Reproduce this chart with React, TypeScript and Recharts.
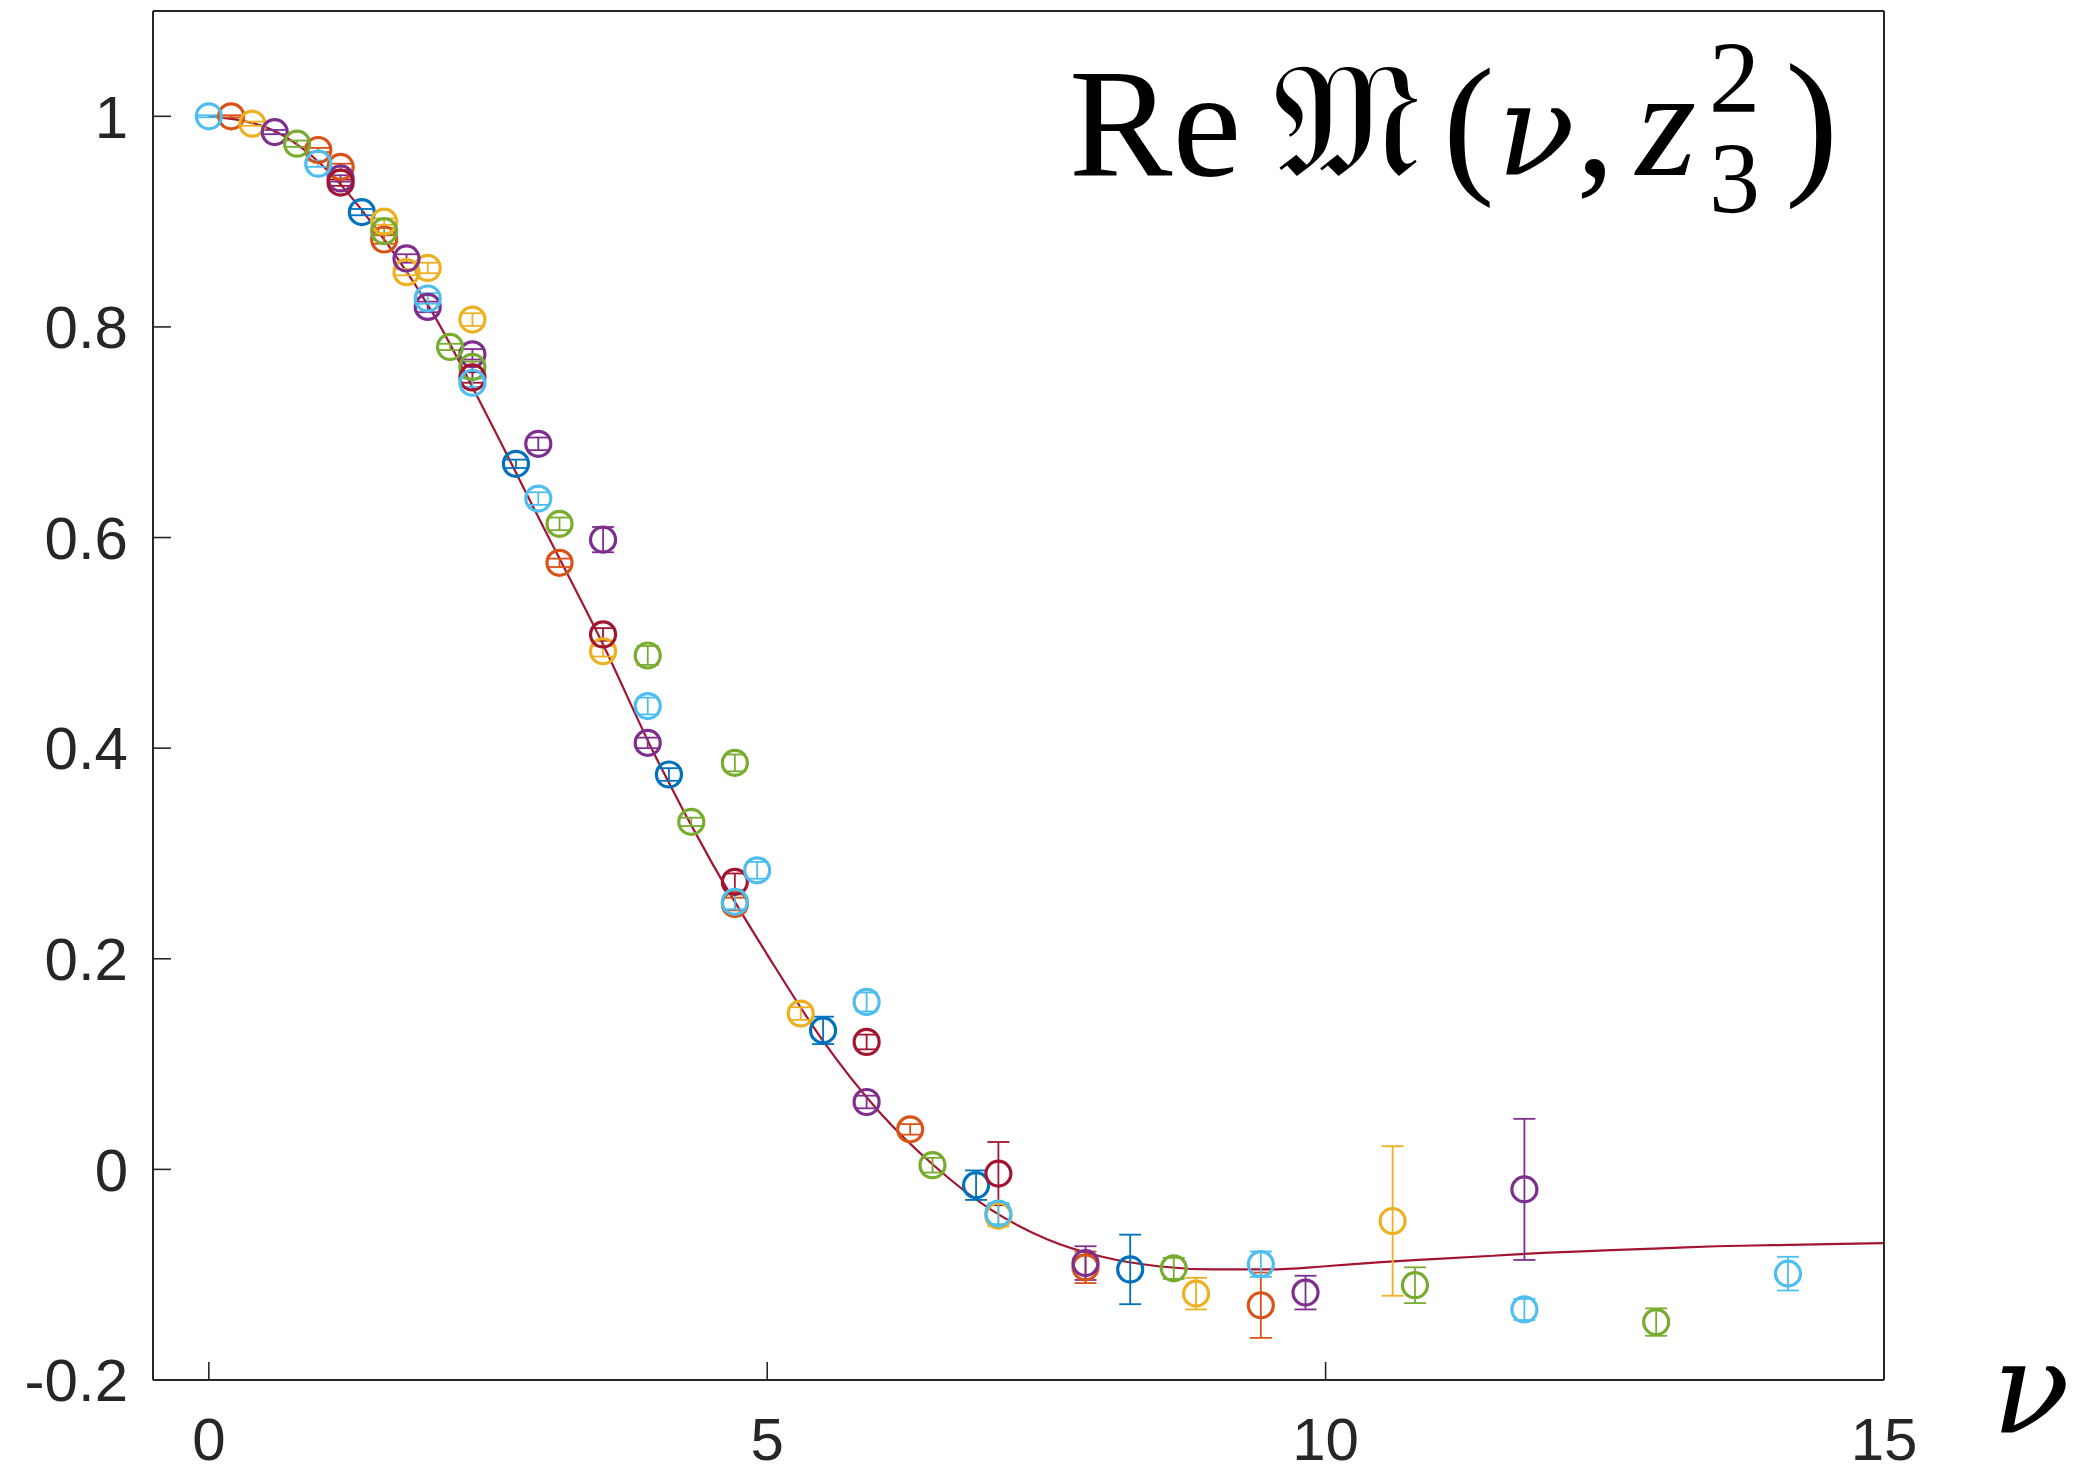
import { ComposedChart, Line, Scatter, ErrorBar, XAxis, YAxis } from 'recharts'

// MATLAB default colour order
const BLUE = '#0072BD'
const ORANGE = '#D95319'
const YELLOW = '#EDB120'
const PURPLE = '#7E2F8E'
const GREEN = '#77AC30'
const LIGHTBLUE = '#4DBEEE'
const DARKRED = '#A2142F'
const AXIS = '#262626'

const xTicks = [0, 5, 10, 15]
const yTicks = [-0.2, 0, 0.2, 0.4, 0.6, 0.8, 1]

// fitted curve
const curveNu = [0, 0.5, 1, 1.5, 2, 2.5, 3, 3.5, 4, 4.5, 5, 5.5, 6, 6.5, 7, 7.5, 8, 8.5, 9, 9.5, 10, 10.5, 11, 11.5, 12, 12.5, 13, 13.5, 14, 14.5, 15]
const curveRe = [1, 0.99, 0.955, 0.893, 0.814, 0.714, 0.609, 0.505, 0.392, 0.292, 0.204, 0.122, 0.055, 0.003, -0.038, -0.066, -0.083, -0.092, -0.095, -0.095, -0.092, -0.088, -0.085, -0.082, -0.079, -0.077, -0.075, -0.073, -0.072, -0.071, -0.07]

// lattice points: [nu, Re M, error]
const bluePts = [
  [1.37, 0.909, 0.003], [2.75, 0.67, 0.004], [4.12, 0.375, 0.006], [5.5, 0.132, 0.013],
  [6.87, -0.015, 0.014], [8.25, -0.095, 0.033],
]
const orangePts = [
  [0.2, 1.0, 0.001], [0.98, 0.968, 0.002], [1.18, 0.952, 0.003], [1.57, 0.883, 0.004],
  [3.14, 0.576, 0.004], [4.71, 0.252, 0.006], [6.28, 0.038, 0.005], [7.85, -0.093, 0.015],
  [9.42, -0.129, 0.031],
]
const yellowPts = [
  [0.39, 0.993, 0.002], [1.57, 0.9, 0.003], [1.77, 0.852, 0.003], [1.96, 0.856, 0.005],
  [2.36, 0.807, 0.006], [3.53, 0.492, 0.005], [5.3, 0.148, 0.006], [7.07, -0.044, 0.01],
  [8.84, -0.118, 0.015], [10.6, -0.049, 0.071],
]
const purplePts = [
  [0.59, 0.985, 0.002], [1.18, 0.941, 0.003], [1.77, 0.865, 0.004], [1.96, 0.819, 0.005],
  [2.36, 0.774, 0.005], [2.95, 0.689, 0.006], [3.53, 0.598, 0.012], [3.93, 0.405, 0.005],
  [5.89, 0.064, 0.006], [7.85, -0.089, 0.016], [9.82, -0.117, 0.016], [11.78, -0.019, 0.067],
]
const greenPts = [
  [0.79, 0.974, 0.003], [1.57, 0.891, 0.003], [2.16, 0.781, 0.003], [2.36, 0.762, 0.005],
  [3.14, 0.613, 0.006], [3.93, 0.488, 0.009], [4.32, 0.33, 0.004], [4.71, 0.386, 0.008],
  [6.48, 0.004, 0.007], [8.64, -0.094, 0.01], [10.8, -0.11, 0.017], [12.96, -0.145, 0.013],
]
const darkRedPts = [
  [1.18, 0.937, 0.003], [2.36, 0.752, 0.005], [3.53, 0.508, 0.006], [4.71, 0.273, 0.008],
  [5.89, 0.121, 0.007], [7.07, -0.004, 0.03],
]
const lightBluePts = [
  [0, 1.0, 0.001], [0.98, 0.955, 0.003], [1.96, 0.827, 0.005], [2.36, 0.747, 0.004],
  [2.95, 0.637, 0.006], [3.93, 0.44, 0.008], [4.71, 0.254, 0.007], [4.91, 0.284, 0.008],
  [5.89, 0.159, 0.009], [7.07, -0.042, 0.01], [9.42, -0.09, 0.012], [11.78, -0.133, 0.01],
  [14.14, -0.099, 0.016],
]

const series = [
  { color: BLUE, pts: bluePts },
  { color: ORANGE, pts: orangePts },
  { color: YELLOW, pts: yellowPts },
  { color: PURPLE, pts: purplePts },
  { color: GREEN, pts: greenPts },
  { color: DARKRED, pts: darkRedPts },
  { color: LIGHTBLUE, pts: lightBluePts },
]

const curve = curveNu.map((x, i) => ({ x, y: curveRe[i] }))

const W = 2080
const H = 1472
const tickFont = { fill: AXIS, fontSize: 60, fontFamily: "'Liberation Sans', Arial, sans-serif" }
const SERIF = "'Liberation Serif', 'Times New Roman', serif"
const GREEK = "'DejaVu Serif', serif"
const FRAKTUR = "'DejaVu Serif', 'DejaVu Sans', serif"

function Ring(color: string) {
  return (props: any) => {
    const { cx, cy } = props
    if (cx == null || cy == null) return <g />
    return <circle cx={cx} cy={cy} r={12.5} fill="none" stroke={color} strokeWidth={3.2} />
  }
}

export default function App() {
  return (
    <div style={{ position: 'relative', width: W, height: H, background: '#fff' }}>
      <style>{'body{margin:0}'}</style>
      <ComposedChart width={W} height={H} margin={{ top: 10, right: 195, bottom: 0, left: 0 }}>
        <XAxis
          type="number"
          dataKey="x"
          domain={[-0.5, 15]}
          ticks={xTicks}
          allowDataOverflow
          height={92}
          tick={tickFont}
          tickSize={-18}
          tickMargin={55}
          axisLine={{ stroke: AXIS, strokeWidth: 2 }}
          tickLine={{ stroke: AXIS, strokeWidth: 1.6 }}
        />
        <XAxis
          xAxisId="top"
          orientation="top"
          type="number"
          domain={[-0.5, 15]}
          ticks={xTicks}
          allowDataOverflow
          height={1}
          tick={false}
          tickSize={-18}
          axisLine={{ stroke: AXIS, strokeWidth: 2 }}
          tickLine={{ stroke: AXIS, strokeWidth: 1.6 }}
        />
        <YAxis
          type="number"
          domain={[-0.2, 1.1]}
          ticks={yTicks}
          allowDataOverflow
          width={153}
          tick={tickFont}
          tickSize={-18}
          tickMargin={43}
          axisLine={{ stroke: AXIS, strokeWidth: 2 }}
          tickLine={{ stroke: AXIS, strokeWidth: 1.6 }}
        />
        <YAxis
          yAxisId="right"
          orientation="right"
          type="number"
          domain={[-0.2, 1.1]}
          ticks={yTicks}
          allowDataOverflow
          width={1}
          tick={false}
          tickSize={-18}
          axisLine={{ stroke: AXIS, strokeWidth: 2 }}
          tickLine={{ stroke: AXIS, strokeWidth: 1.6 }}
        />
        <Line
          data={curve}
          dataKey="y"
          type="monotone"
          stroke={DARKRED}
          strokeWidth={2.2}
          dot={false}
          activeDot={false}
          isAnimationActive={false}
        />
        {series.map((s, i) => (
          <Scatter
            key={i}
            data={s.pts.map(([x, y, e]) => ({ x, y, e }))}
            dataKey="y"
            shape={Ring(s.color)}
            isAnimationActive={false}
          >
            <ErrorBar dataKey="e" direction="y" width={11} stroke={s.color} strokeWidth={1.8} />
          </Scatter>
        ))}
      </ComposedChart>
      <svg width={W} height={H} style={{ position: 'absolute', left: 0, top: 0, pointerEvents: 'none' }}>
        <g style={{ fontFamily: SERIF }} fill="#000">
          <text x={1069} y={175} fontSize={155}>Re</text>
          <text x={1273} y={175} fontSize={160} style={{ fontFamily: FRAKTUR }}>𝔐</text>
          <text x={1443} y={175} fontSize={155}>(</text>
          <text x={1497} y={175} fontSize={128} fontStyle="italic" style={{ fontFamily: GREEK }}>ν</text>
          <text x={1576} y={175} fontSize={155}>,</text>
          <text x={1636} y={175} fontSize={155} fontStyle="italic">z</text>
          <text fontSize={102}>
            <tspan x={1709} y={112}>2</tspan>
            <tspan x={1709} y={213}>3</tspan>
          </text>
          <text x={1785} y={175} fontSize={160}>)</text>
          <text x={1992} y={1433} fontSize={128} fontStyle="italic" style={{ fontFamily: GREEK }}>ν</text>
        </g>
      </svg>
    </div>
  )
}
